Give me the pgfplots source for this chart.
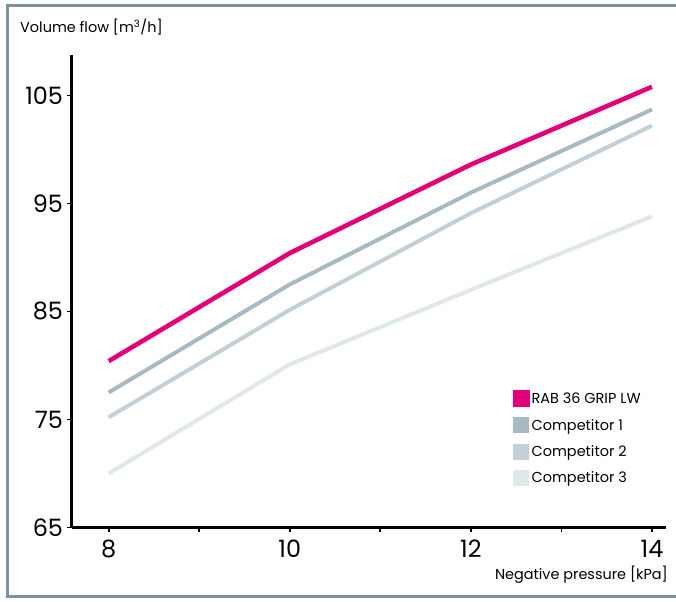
\documentclass[border=0pt]{standalone}
\usepackage{fontspec}
\setmainfont{Poppins}
\usepackage{pgfplots}
\pgfplotsset{compat=1.18}

\definecolor{rab}{HTML}{E2007A}
\definecolor{compa}{HTML}{A7B9C3}
\definecolor{compb}{HTML}{C3CFD6}
\definecolor{compc}{HTML}{E0E7EA}
\definecolor{framecol}{HTML}{7D929C}

\begin{document}
\begin{tikzpicture}[x=1bp,y=1bp]
  \useasboundingbox (0,0) rectangle (676,602);
  % outer frame (open on the right)
  \draw[framecol, line width=3bp] (676,596) -- (7,596) -- (7,5) -- (676,5);

  \begin{axis}[
    at={(79,69)}, anchor=south west,
    scale only axis, width=594bp, height=472bp,
    xmin=7.59, xmax=14.15, ymin=65, ymax=108.7,
    axis x line*=bottom, axis y line*=left,
    axis line style={line width=2.4bp, black},
    xtick={8,10,12,14}, minor xtick={9,11,13},
    ytick={65,75,85,95,105},
    tick align=outside,
    major tick length=5bp, minor tick length=5bp,
    every tick/.style={line width=1.8bp, black},
    minor tick style={line width=1.8bp, black},
    tick label style={font=\fontsize{24}{24}\selectfont},
    xticklabel style={yshift=-4bp},
    /pgf/number format/assume math mode=true,
    legend style={at={(rel axis cs:0.738,0.295)}, anchor=north west,
      draw=none, fill=none, font=\fontsize{14.5}{14.5}\selectfont,
      row sep=10bp, cells={anchor=west}},
    legend image code/.code={\fill[#1] (0bp,-6bp) rectangle (12bp,6bp);},
    clip=false,
  ]
    \addplot[rab, line width=4.6bp] coordinates {
      (8,80.4) (10,90.4) (12,98.6) (14,105.8)
    };
    \addlegendentry{RAB 36 GRIP LW}
    \addplot[compa, line width=4bp] coordinates {
      (8,77.5) (10,87.5) (12,96.0) (14,103.7)
    };
    \addlegendentry{Competitor 1}
    \addplot[compb, line width=4bp] coordinates {
      (8,75.2) (10,85.15) (12,94.1) (14,102.2)
    };
    \addlegendentry{Competitor 2}
    \addplot[compc, line width=4bp] coordinates {
      (8,70.0) (10,80.1) (12,87.0) (14,93.8)
    };
    \addlegendentry{Competitor 3}
  \end{axis}

  \node[anchor=base west, inner sep=0, font=\fontsize{14.5}{14.5}\selectfont]
    at (20,569) {Volume flow [m\textsuperscript{3}/h]};
  \node[anchor=base east, inner sep=0, font=\fontsize{14.5}{14.5}\selectfont]
    at (668,22) {Negative pressure [kPa]};
\end{tikzpicture}
\end{document}
